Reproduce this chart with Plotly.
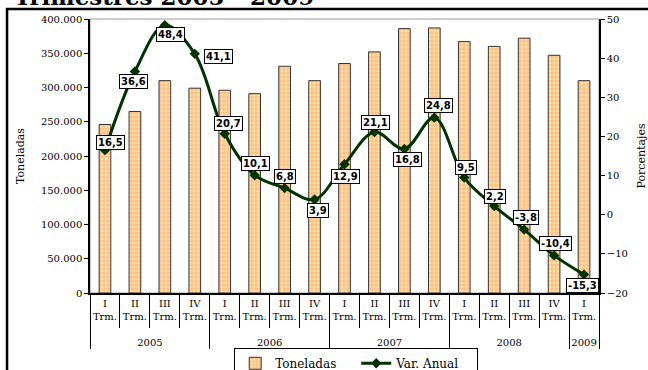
import plotly.graph_objects as go

# Quarterly tonnage and year-over-year change
anios = ["2005"] * 4 + ["2006"] * 4 + ["2007"] * 4 + ["2008"] * 4 + ["2009"]
trimestres = ["I", "II", "III", "IV"] * 4 + ["I"]
toneladas = [246000, 265000, 310000, 299000, 296000, 291000, 331000, 310000,
             335000, 352000, 386000, 387000, 367000, 360000, 372000, 347000,
             310000]
var_anual = [16.5, 36.6, 48.4, 41.1, 20.7, 10.1, 6.8, 3.9, 12.9, 21.1, 16.8,
             24.8, 9.5, 2.2, -3.8, -10.4, -15.3]

# Pixel nudges for each value label (x right, y up)
label_shift = [(6, 8), (-1, -10), (6, -9), (24, -3), (4, 10), (1, 12), (0, 12),
               (3, -11), (1, -12), (1, 10), (3, -11), (4, 12), (2, 10), (1, 10),
               (2, 12), (1, 12), (-2, -11)]

# Quarter label with a blank third line so the year row sits lower
x_cat = [anios, [t + "<br>Trm.<br>\u00a0" for t in trimestres]]

SERIF = "DejaVu Serif"
GREEN = "#003300"

fig = go.Figure()
fig.add_trace(go.Bar(
    x=x_cat, y=toneladas, name="Toneladas",
    marker=dict(
        color="#FFF29A",
        line=dict(color="#333333", width=1),
        pattern=dict(shape=".", fgcolor="#FF8A8A", bgcolor="#FFF29A",
                     size=4, solidity=0.7),
    ),
))
fig.add_trace(go.Scatter(
    x=x_cat, y=var_anual, name="Var. Anual", yaxis="y2",
    mode="lines+markers",
    line=dict(color=GREEN, width=3, shape="spline", smoothing=1),
    marker=dict(symbol="diamond", size=8, color=GREEN),
))

annotations = []
for i, (v, (dx, dy)) in enumerate(zip(var_anual, label_shift)):
    annotations.append(dict(
        x=i, y=v, xref="x", yref="y2", showarrow=False,
        text=f"{v:.1f}".replace(".", ","),
        xshift=dx, yshift=dy,
        font=dict(family="DejaVu Sans", size=10, color="black", weight="bold"),
        bgcolor="white", bordercolor="black", borderwidth=1, borderpad=1,
    ))

annotations.append(dict(
    x=-0.153, y=1.0255, xref="paper", yref="paper", xanchor="left",
    yanchor="bottom", showarrow=False,
    text="<b>Trimestres 2005 - 2009</b>",
    font=dict(family=SERIF, size=23, color="black"),
))

fig.update_layout(
    width=648, height=370,
    margin=dict(l=90, r=49, t=19, b=77, autoexpand=False),
    paper_bgcolor="white", plot_bgcolor="white",
    separators=",.",
    bargap=0.61,
    annotations=annotations,
    legend=dict(
        orientation="h", x=0.523, xanchor="center", y=-0.2, yanchor="top",
        bordercolor="black", borderwidth=1, bgcolor="white",
        entrywidth=76, entrywidthmode="pixels",
        font=dict(family=SERIF, size=12, color="black"),
    ),
    xaxis=dict(
        type="multicategory", range=[-0.5, 16.5],
        showline=True, linecolor="black", linewidth=1.5,
        ticks="outside", tickson="boundaries", ticklen=33, tickcolor="black",
        showdividers=True, dividercolor="black", dividerwidth=1,
        tickangle=0, automargin=False,
        tickfont=dict(family=SERIF, size=10, color="black"),
        showgrid=False,
    ),
    yaxis=dict(
        range=[0, 400000], dtick=50000, tickformat=",.0f",
        showline=True, linecolor="black", linewidth=1.5,
        ticks="outside", ticklen=4, tickcolor="black",
        showgrid=False, zeroline=False, automargin=False,
        tickfont=dict(family=SERIF, size=10, color="black"),
        title=dict(text="Toneladas", standoff=14,
                   font=dict(family=SERIF, size=11, color="black")),
    ),
    yaxis2=dict(
        overlaying="y", side="right",
        range=[-20, 50], dtick=10,
        showline=True, linecolor="black", linewidth=1.5,
        ticks="outside", ticklen=4, tickcolor="black",
        showgrid=False, zeroline=False, automargin=False,
        tickfont=dict(family=SERIF, size=10, color="black"),
        title=dict(text="Porcentajes", standoff=14,
                   font=dict(family=SERIF, size=11, color="black")),
    ),
    shapes=[
        dict(type="rect", xref="paper", yref="paper", x0=0, x1=1, y0=0, y1=1,
             line=dict(color="#9A9A9A", width=1), layer="below"),
        dict(type="rect", xref="paper", yref="paper",
             x0=-0.163, x1=1.12, y0=-0.35, y1=1.0365,
             line=dict(color="black", width=2.5)),
    ],
)

fig.write_html("out.html")
